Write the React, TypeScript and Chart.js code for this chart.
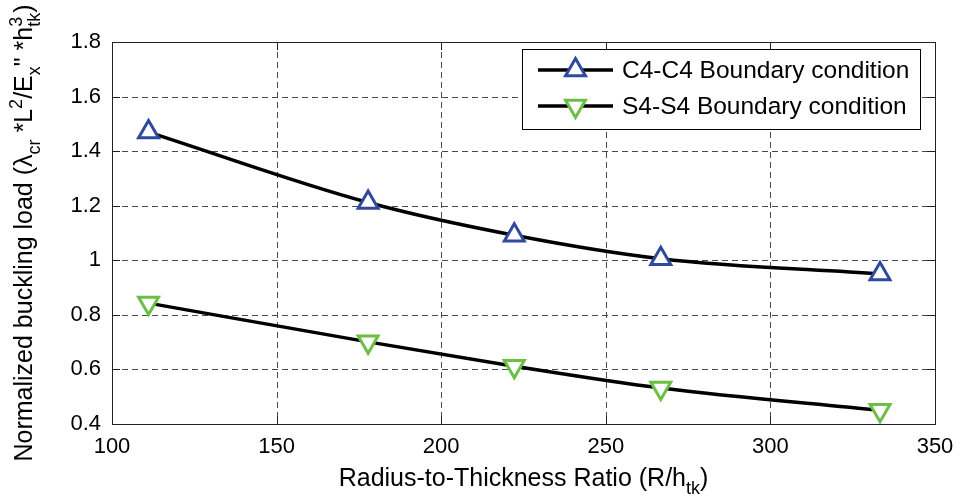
import React, { useEffect, useRef } from 'react';
import { Chart, registerables } from 'chart.js';

Chart.register(...registerables);

// ---------- data ----------
const ratios = [111.1, 177.8, 222.2, 266.7, 333.3];
const c4Values = [1.47, 1.212, 1.092, 1.006, 0.95];
const s4Values = [0.843, 0.701, 0.612, 0.532, 0.45];
const seriesLabels = ['C4-C4 Boundary condition', 'S4-S4 Boundary condition'];
const seriesColors = ['#2E4A9F', '#6CBE45'];
const xMin = 100, xMax = 350, xStep = 50;
const yMin = 0.4, yMax = 1.8, yStep = 0.2;

type Seg = { text?: string; sup?: string; sub?: string };
const xTitleSegs: Seg[] = [{ text: 'Radius-to-Thickness Ratio (R/h' }, { sub: 'tk' }, { text: ')' }];
const yTitleSegs: Seg[] = [
  { text: 'Normalized buckling load (λ' },
  { sub: 'cr' },
  { text: ' *L' },
  { sup: '2' },
  { text: '/E' },
  { sub: 'x' },
  { text: '" *h' },
  { sup: '3', sub: 'tk' },
  { text: ')' },
];

const FAMILY = '"Liberation Sans", Arial, Helvetica, sans-serif';
const SMALL = 0.72;

function segWidth(ctx: CanvasRenderingContext2D, s: Seg, size: number) {
  if (s.text !== undefined) {
    ctx.font = `${size}px ${FAMILY}`;
    return ctx.measureText(s.text).width;
  }
  ctx.font = `${size * SMALL}px ${FAMILY}`;
  const a = s.sup ? ctx.measureText(s.sup).width : 0;
  const b = s.sub ? ctx.measureText(s.sub).width : 0;
  return Math.max(a, b);
}

function richWidth(ctx: CanvasRenderingContext2D, segs: Seg[], size: number) {
  return segs.reduce((w, s) => w + segWidth(ctx, s, size), 0);
}

function drawRich(ctx: CanvasRenderingContext2D, segs: Seg[], x: number, y: number, size: number) {
  let cx = x;
  ctx.textBaseline = 'alphabetic';
  ctx.textAlign = 'left';
  ctx.fillStyle = '#000';
  for (const s of segs) {
    const w = segWidth(ctx, s, size);
    if (s.text !== undefined) {
      ctx.font = `${size}px ${FAMILY}`;
      ctx.fillText(s.text, cx, y);
    } else {
      ctx.font = `${size * SMALL}px ${FAMILY}`;
      if (s.sup) ctx.fillText(s.sup, cx, y - size * 0.42);
      if (s.sub) ctx.fillText(s.sub, cx, y + size * 0.3);
    }
    cx += w;
  }
}

function triangle(ctx: CanvasRenderingContext2D, x: number, y: number, r: number, down: boolean) {
  ctx.beginPath();
  for (let i = 0; i < 3; i++) {
    const a = (down ? Math.PI : 0) + (i * 2 * Math.PI) / 3;
    const px = x + Math.sin(a) * r;
    const py = y - Math.cos(a) * r;
    if (i === 0) ctx.moveTo(px, py);
    else ctx.lineTo(px, py);
  }
  ctx.closePath();
}

const MARK_R = 11.5;
const MARK_W = 3;

const decorPlugin = {
  id: 'decor',
  beforeDatasetsDraw(chart: any) {
    const ctx: CanvasRenderingContext2D = chart.ctx;
    const { left, right, top, bottom } = chart.chartArea;
    const xs = chart.scales.x;
    const ys = chart.scales.y;
    ctx.save();
    ctx.strokeStyle = '#4a4a4a';
    ctx.lineWidth = 1;
    ctx.setLineDash([6, 4]);
    xs.ticks.forEach((t: any) => {
      const px = Math.round(xs.getPixelForValue(t.value)) + 0.5;
      ctx.beginPath();
      ctx.moveTo(px, top);
      ctx.lineTo(px, bottom);
      ctx.stroke();
    });
    ys.ticks.forEach((t: any) => {
      const py = Math.round(ys.getPixelForValue(t.value)) + 0.5;
      ctx.beginPath();
      ctx.moveTo(left, py);
      ctx.lineTo(right, py);
      ctx.stroke();
    });
    ctx.setLineDash([]);
    ctx.restore();
  },
  afterDatasetsDraw(chart: any) {
    const ctx: CanvasRenderingContext2D = chart.ctx;
    const { left, right, top, bottom } = chart.chartArea;
    const xs = chart.scales.x;
    const ys = chart.scales.y;
    ctx.save();
    ctx.strokeStyle = '#222';
    ctx.lineWidth = 1;
    ctx.strokeRect(Math.round(left) + 0.5, Math.round(top) + 0.5, Math.round(right - left), Math.round(bottom - top));
    const tl = 8;
    xs.ticks.forEach((t: any) => {
      const px = Math.round(xs.getPixelForValue(t.value)) + 0.5;
      ctx.beginPath();
      ctx.moveTo(px, bottom);
      ctx.lineTo(px, bottom - tl);
      ctx.moveTo(px, top);
      ctx.lineTo(px, top + tl);
      ctx.stroke();
    });
    ys.ticks.forEach((t: any) => {
      const py = Math.round(ys.getPixelForValue(t.value)) + 0.5;
      ctx.beginPath();
      ctx.moveTo(left, py);
      ctx.lineTo(left + tl, py);
      ctx.moveTo(right, py);
      ctx.lineTo(right - tl, py);
      ctx.stroke();
    });

    // axis titles
    const tSize = 25;
    const xw = richWidth(ctx, xTitleSegs, tSize);
    drawRich(ctx, xTitleSegs, (left + right) / 2 - xw / 2, 486, tSize);
    const yw = richWidth(ctx, yTitleSegs, tSize);
    ctx.save();
    ctx.translate(32, (top + bottom) / 2);
    ctx.rotate(-Math.PI / 2);
    drawRich(ctx, yTitleSegs, -yw / 2, 0, tSize);
    ctx.restore();

    // legend
    const lx = 522, ly = 49, lw = 398, lh = 80;
    ctx.fillStyle = '#fff';
    ctx.fillRect(lx, ly, lw, lh);
    ctx.strokeStyle = '#000';
    ctx.lineWidth = 1;
    ctx.strokeRect(lx + 0.5, ly + 0.5, lw, lh);
    chart.data.datasets.forEach((ds: any, i: number) => {
      const cy = i === 0 ? 70 : 106;
      ctx.strokeStyle = '#000';
      ctx.lineWidth = 3.5;
      ctx.beginPath();
      ctx.moveTo(538, cy);
      ctx.lineTo(613, cy);
      ctx.stroke();
      triangle(ctx, 575.5, cy, MARK_R, i === 1);
      ctx.fillStyle = '#fff';
      ctx.fill();
      ctx.strokeStyle = ds.pointBorderColor;
      ctx.lineWidth = MARK_W;
      ctx.stroke();
      ctx.fillStyle = '#000';
      ctx.font = `24.5px ${FAMILY}`;
      ctx.textAlign = 'left';
      ctx.textBaseline = 'middle';
      ctx.fillText(ds.label, 622, cy + 1);
    });
    ctx.restore();
  },
};

export default function App() {
  const ref = useRef<HTMLCanvasElement | null>(null);
  useEffect(() => {
    if (!ref.current) return;
    const mk = (vals: number[], i: number) => ({
      label: seriesLabels[i],
      data: ratios.map((r, k) => ({ x: r, y: vals[k] })),
      borderColor: '#000',
      borderWidth: 3.5,
      cubicInterpolationMode: 'monotone' as const,
      pointStyle: 'triangle',
      pointRotation: i === 1 ? 180 : 0,
      pointRadius: MARK_R,
      pointBorderWidth: MARK_W,
      pointBorderColor: seriesColors[i],
      pointBackgroundColor: '#fff',
      clip: false as any,
    });
    const chart = new Chart(ref.current, {
      type: 'line',
      data: { datasets: [mk(c4Values, 0), mk(s4Values, 1)] as any },
      options: {
        animation: false,
        responsive: false,
        events: [],
        layout: { padding: { top: 42, right: 29, left: 0, bottom: 0 } },
        plugins: { legend: { display: false }, tooltip: { enabled: false }, title: { display: false } },
        scales: {
          x: {
            type: 'linear',
            min: xMin,
            max: xMax,
            grid: { display: false },
            border: { display: false },
            ticks: {
              stepSize: xStep,
              color: '#000',
              padding: 2,
              maxRotation: 0,
              font: { family: FAMILY, size: 22 },
              callback: (v: any) => String(v),
            },
            afterFit: (s: any) => { s.height = 72; },
          },
          y: {
            type: 'linear',
            min: yMin,
            max: yMax,
            grid: { display: false },
            border: { display: false },
            ticks: {
              stepSize: yStep,
              color: '#000',
              padding: 3,
              font: { family: FAMILY, size: 22 },
              callback: (v: any) => String(Number(Number(v).toFixed(1))),
            },
            afterFit: (s: any) => { s.width = 112; },
          },
        },
      },
      plugins: [decorPlugin],
    });
    return () => chart.destroy();
  }, []);
  return (
    <div style={{ position: 'fixed', left: 0, top: 0, width: 964, height: 496, background: '#fff' }}>
      <canvas ref={ref} width={964} height={496} style={{ display: 'block' }} />
    </div>
  );
}
